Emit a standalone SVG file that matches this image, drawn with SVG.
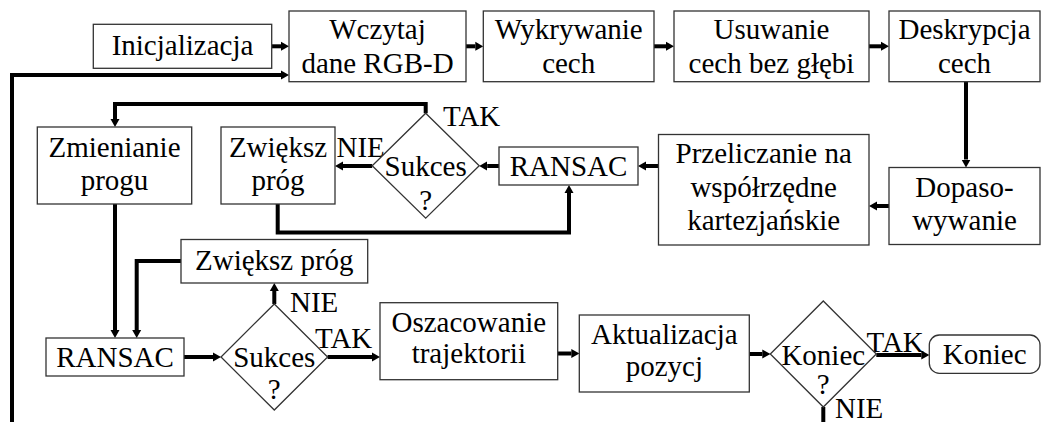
<svg xmlns="http://www.w3.org/2000/svg" width="1042" height="422" viewBox="0 0 1042 422">
<style>
  .box { fill: #ffffff; stroke: #333333; stroke-width: 1.3; }
  text { font-family: 'Liberation Serif', 'Times New Roman', Times, 'DejaVu Serif', serif; font-size: 29px; fill: #000000; }
  .t { text-anchor: middle; }
  .c { fill: none; stroke: #000000; stroke-width: 4; stroke-linejoin: miter; stroke-linecap: butt; }
  .ca { fill: none; stroke: #000000; stroke-width: 4; stroke-linejoin: miter; stroke-linecap: butt; marker-end: url(#ah); }
</style>
<defs>
  <marker id="ah" markerWidth="8" markerHeight="10" refX="0" refY="5" orient="auto" markerUnits="userSpaceOnUse">
    <path d="M0,0.5 L8,5 L0,9.5 z" fill="#000000"/>
  </marker>
</defs>
<rect width="1042" height="422" fill="#ffffff"/>

<g id="connectors">
  <path class="ca" d="M271.7,46.3 H281"/>
  <path class="ca" d="M466,46.3 H475.3"/>
  <path class="ca" d="M654,46.3 H666"/>
  <path class="ca" d="M869,46.3 H881"/>
  <path class="ca" d="M966,81.7 V159.5"/>
  <path class="ca" d="M889,206 H877"/>
  <path class="ca" d="M658.5,166 H646"/>
  <path class="ca" d="M499,166 H487.2"/>
  <path class="ca" d="M372.2,166 H343"/>
  <path class="ca" d="M425.7,113.2 V104 H115 V119"/>
  <path class="ca" d="M277.7,204 V232.5 H569 V193"/>
  <path class="ca" d="M115,204 V330"/>
  <path class="ca" d="M181,261 H136.7 V330"/>
  <path class="ca" d="M184,357 H213"/>
  <path class="ca" d="M274.3,304 V291"/>
  <path class="ca" d="M327.6,357 H372"/>
  <path class="ca" d="M557.7,353.5 H571.3"/>
  <path class="ca" d="M749.3,354 H762.3"/>
  <path class="ca" d="M876.3,355 H921.3"/>
  <path class="c" d="M823.3,407 V426"/>
  <path class="ca" d="M12,426 V75 H281"/>
</g>

<g id="labels" font-family="Liberation Serif, serif">
  <text x="443" y="126">TAK</text>
  <text x="336.5" y="157">NIE</text>
  <text x="290" y="312">NIE</text>
  <text x="315" y="348">TAK</text>
  <text x="866.5" y="352">TAK</text>
  <text x="835" y="418">NIE</text>
</g>

<g id="n-init">
  <rect class="box" x="93.3" y="24.3" width="178.4" height="44"/>
  <text class="t" x="182.5" y="54.5">Inicjalizacja</text>
</g>
<g id="n-wczytaj">
  <rect class="box" x="289" y="11" width="177" height="70.7"/>
  <text class="t" x="377.5" y="39.3">Wczytaj</text>
  <text class="t" x="377.5" y="72.5">dane RGB-D</text>
</g>
<g id="n-wykrywanie">
  <rect class="box" x="483.3" y="11" width="170.7" height="70.7"/>
  <text class="t" x="568.7" y="39.3">Wykrywanie</text>
  <text class="t" x="568.7" y="72.5">cech</text>
</g>
<g id="n-usuwanie">
  <rect class="box" x="674" y="11" width="195" height="70.7"/>
  <text class="t" x="771.5" y="39.3">Usuwanie</text>
  <text class="t" x="771.5" y="72.5">cech bez głębi</text>
</g>
<g id="n-deskrypcja">
  <rect class="box" x="889" y="11" width="151" height="70.7"/>
  <text class="t" x="964.5" y="39.3">Deskrypcja</text>
  <text class="t" x="964.5" y="72.5">cech</text>
</g>
<g id="n-dopasowywanie">
  <rect class="box" x="889" y="167.5" width="151" height="77"/>
  <text class="t" x="964.5" y="197">Dopaso-</text>
  <text class="t" x="964.5" y="230">wywanie</text>
</g>
<g id="n-przeliczanie">
  <rect class="box" x="658.5" y="134.5" width="210.5" height="110.5"/>
  <text class="t" x="763.7" y="163">Przeliczanie na</text>
  <text class="t" x="763.7" y="196.5">współrzędne</text>
  <text class="t" x="763.7" y="229.5">kartezjańskie</text>
</g>
<g id="n-ransac1">
  <rect class="box" x="499" y="147" width="139" height="38"/>
  <text class="t" x="568.5" y="176">RANSAC</text>
</g>
<g id="n-sukces1">
  <polygon class="box" points="425.7,113.2 479.2,165.7 425.7,218.2 372.2,165.7"/>
  <text class="t" x="425.7" y="176">Sukces</text>
  <text class="t" x="425.7" y="210">?</text>
</g>
<g id="n-zwieksz1">
  <rect class="box" x="221" y="127" width="114" height="77"/>
  <text class="t" x="278" y="157">Zwiększ</text>
  <text class="t" x="278" y="190">próg</text>
</g>
<g id="n-zmienianie">
  <rect class="box" x="37.3" y="127" width="154.4" height="77"/>
  <text class="t" x="114.5" y="157">Zmienianie</text>
  <text class="t" x="114.5" y="190">progu</text>
</g>
<g id="n-zwieksz2">
  <rect class="box" x="181" y="239.5" width="186.7" height="43.5"/>
  <text class="t" x="274.3" y="270">Zwiększ próg</text>
</g>
<g id="n-ransac2">
  <rect class="box" x="46" y="338" width="138" height="38"/>
  <text class="t" x="115" y="367">RANSAC</text>
</g>
<g id="n-sukces2">
  <polygon class="box" points="274.3,304 327.6,357 274.3,410 221,357"/>
  <text class="t" x="274.3" y="367">Sukces</text>
  <text class="t" x="274.3" y="399">?</text>
</g>
<g id="n-oszacowanie">
  <rect class="box" x="380" y="302.7" width="177.7" height="77"/>
  <text class="t" x="468.8" y="332">Oszacowanie</text>
  <text class="t" x="468.8" y="363">trajektorii</text>
</g>
<g id="n-aktualizacja">
  <rect class="box" x="579.3" y="315" width="170" height="77"/>
  <text class="t" x="664.3" y="344">Aktualizacja</text>
  <text class="t" x="664.3" y="376">pozycj</text>
</g>
<g id="n-koniec-q">
  <polygon class="box" points="823.3,301 876.3,354 823.3,407 770.3,354"/>
  <text class="t" x="823.3" y="365">Koniec</text>
  <text class="t" x="823.3" y="394">?</text>
</g>
<g id="n-koniec">
  <rect class="box" x="929.3" y="335" width="110.7" height="38.3" rx="10" ry="10"/>
  <text class="t" x="984.7" y="363.5">Koniec</text>
</g>
</svg>
